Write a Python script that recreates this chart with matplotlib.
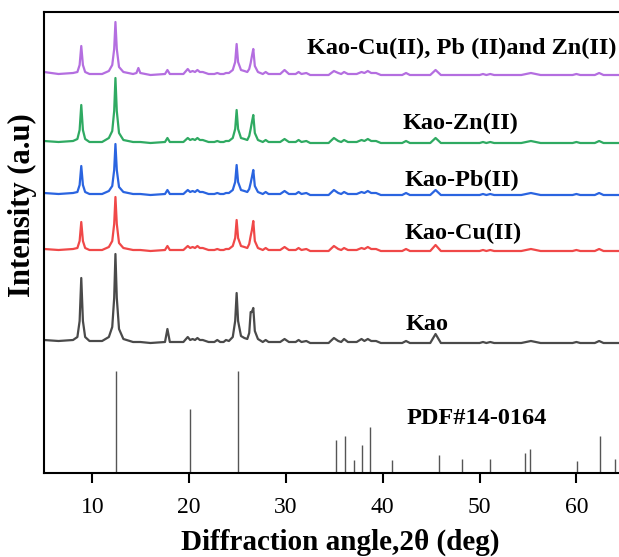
import matplotlib
matplotlib.use("Agg")
import matplotlib.pyplot as plt
import numpy as np

# 2-theta positions of read feature points (shared grid)
two_theta = [5.0, 6.5, 8.0, 8.45, 8.68, 8.85, 9.02, 9.25, 9.7, 11.0,
             11.7, 12.05, 12.25, 12.38, 12.52, 12.75, 13.2, 14.2, 14.55, 14.75,
             14.95, 16.0, 17.5, 17.75, 18.0, 19.4, 19.85, 20.1, 20.35, 20.6,
             20.85, 21.1, 21.4, 22.0, 22.6, 22.9, 23.2, 23.55, 23.8, 24.1,
             24.5, 24.75, 24.9, 25.05, 25.35, 25.7, 26.0, 26.2, 26.35, 26.48,
             26.62, 26.78, 27.1, 27.6, 27.9, 28.2, 29.4, 29.85, 30.3, 31.0,
             31.3, 31.6, 32.1, 32.5, 34.4, 34.95, 35.4, 35.7, 36.0, 36.4,
             37.3, 37.8, 38.1, 38.45, 38.8, 39.3, 39.8, 42.0, 42.4, 42.8,
             44.9, 45.45, 46.0, 47.0, 50.0, 50.35, 50.7, 51.1, 51.5, 54.3,
             55.3, 56.3, 59.6, 60.0, 60.4, 61.9, 62.35, 62.8, 64.4]

kao = [3, 2, 3, 6, 22, 65, 22, 6, 2, 2,
       6, 16, 45, 89, 45, 14, 4, 1, 1, 1,
       1, 0, 1, 14, 1, 1, 6, 3, 4, 3,
       5, 3, 3, 1, 1, 3, 1, 1, 3, 2,
       6, 22, 50, 22, 7, 5, 4, 10, 31, 31,
       35, 12, 4, 1, 3, 1, 1, 4, 1, 1,
       3, 1, 2, 0, 0, 5, 2, 1, 4, 1,
       1, 4, 2, 4, 2, 2, 0, 0, 2, 0,
       0, 9, 0, 0, 0, 1, 0, 1, 0, 0,
       2, 0, 0, 1, 0, 0, 2, 0, 0]

kao_cu = [2, 1, 2, 3, 10, 29, 10, 3, 1, 1,
          4, 10, 27, 54, 27, 8, 3, 1, 1, 1,
          1, 0, 1, 5, 1, 1, 5, 3, 4, 3,
          5, 3, 3, 1, 1, 2, 1, 1, 2, 2,
          5, 13, 31, 13, 5, 4, 3, 7, 15, 21,
          30, 10, 3, 1, 3, 1, 1, 4, 1, 1,
          3, 1, 2, 0, 0, 5, 2, 1, 3, 1,
          1, 3, 2, 4, 2, 2, 0, 0, 2, 0,
          0, 6, 0, 0, 0, 1, 0, 1, 0, 0,
          2, 0, 0, 1, 0, 0, 2, 0, 0]

kao_pb = [2, 1, 2, 3, 10, 29, 10, 3, 1, 1,
          4, 9, 25, 51, 25, 8, 3, 1, 1, 1,
          1, 0, 1, 5, 1, 1, 5, 3, 4, 3,
          5, 3, 3, 1, 1, 2, 1, 1, 2, 2,
          5, 13, 30, 13, 5, 4, 3, 6, 12, 18,
          25, 9, 3, 1, 3, 1, 1, 4, 1, 1,
          3, 1, 2, 0, 0, 5, 2, 1, 3, 1,
          1, 3, 2, 4, 2, 2, 0, 0, 2, 0,
          0, 5, 0, 0, 0, 1, 0, 1, 0, 0,
          2, 0, 0, 1, 0, 0, 2, 0, 0]

kao_zn = [2, 1, 2, 4, 13, 38, 13, 4, 1, 1,
          5, 12, 32, 65, 32, 10, 3, 1, 1, 1,
          1, 0, 1, 5, 1, 1, 5, 3, 4, 3,
          5, 3, 3, 1, 1, 2, 1, 1, 2, 2,
          5, 14, 33, 14, 5, 4, 3, 7, 14, 21,
          28, 10, 3, 1, 3, 1, 1, 4, 1, 1,
          3, 1, 2, 0, 0, 5, 2, 1, 3, 1,
          1, 3, 2, 4, 2, 2, 0, 0, 2, 0,
          0, 5, 0, 0, 0, 1, 0, 1, 0, 0,
          2, 0, 0, 1, 0, 0, 2, 0, 0]

kao_mix = [3, 1, 2, 3, 10, 29, 10, 3, 1, 1,
           4, 10, 26, 53, 26, 8, 3, 1, 2, 7,
           2, 0, 1, 5, 1, 1, 6, 3, 4, 3,
           5, 3, 3, 1, 1, 2, 1, 1, 2, 2,
           5, 13, 31, 13, 5, 4, 3, 6, 12, 19,
           26, 9, 3, 1, 3, 1, 1, 5, 1, 1,
           3, 1, 2, 0, 0, 4, 2, 1, 3, 1,
           1, 3, 2, 4, 2, 2, 0, 0, 2, 0,
           0, 5, 0, 0, 0, 1, 0, 1, 0, 0,
           2, 0, 0, 1, 0, 0, 2, 0, 0]

series_labels = ["Kao", "Kao-Cu(II)", "Kao-Pb(II)", "Kao-Zn(II)",
                 "Kao-Cu(II), Pb (II)and Zn(II)"]
series_offsets = [130, 222, 278, 330, 398]
series_colors = ["#4a4a4a", "#f04848", "#2a64e0", "#2faa62", "#b46ee0"]
label_pos = [(42.3, 149), (42.2, 240), (42.2, 293), (42.0, 350), (32.2, 425)]

# PDF#14-0164 reference lines
pdf_pos = [12.4, 20.1, 25.0, 35.2, 36.05, 37.0, 37.9, 38.7, 41.0, 45.8,
           48.2, 51.1, 54.7, 55.2, 60.05, 62.4, 64.0]
pdf_int = [100, 63, 100, 32, 36, 13, 27, 45, 13, 18,
           14, 14, 20, 23, 12, 36, 14]

W, H = 619, 557
fig = plt.figure(figsize=(W / 100, H / 100), dpi=100)
ax = fig.add_axes([44 / W, (H - 473) / H, (W - 44) / W, 461 / H])

serif = ["Liberation Serif", "DejaVu Serif"]
data = [kao, kao_cu, kao_pb, kao_zn, kao_mix]
x = np.array(two_theta)
for ys, off, col in zip(data, series_offsets, series_colors):
    ax.plot(x, np.array(ys) + off, color=col, lw=1.6, solid_joinstyle="round")

for (tx, ty), lab in zip(label_pos, series_labels):
    ax.text(tx, ty, lab, fontsize=17.5, fontweight="bold", family=serif,
            ha="left", va="center")

ax.vlines(pdf_pos, 0, np.array(pdf_int) * 1.023, color="#555555", lw=1.0)
ax.text(42.4, 54, "PDF#14-0164", fontsize=17.5, fontweight="bold", family=serif,
        ha="left", va="center")

ax.set_xlim(5, 64.4)
ax.set_ylim(0, 461)
ax.set_yticks([])
ax.set_xticks([10, 20, 30, 40, 50, 60])
ax.tick_params(axis="x", direction="out", length=7, width=1.5, pad=10,
               labelsize=17)
for lab in ax.get_xticklabels():
    lab.set_family(serif)
for s in ["left", "bottom", "top"]:
    ax.spines[s].set_linewidth(1.5)
ax.spines["right"].set_visible(False)

fig.text(22 / W, (H - 205) / H, "Intensity (a.u)", rotation=90, fontsize=22,
         fontweight="bold", family=serif, ha="center", va="center")
fig.text(340 / W, (H - 542) / H, "Diffraction angle,2θ (deg)", fontsize=21,
         fontweight="bold", family=serif, ha="center", va="center")

fig.savefig("out.png", dpi=100)
